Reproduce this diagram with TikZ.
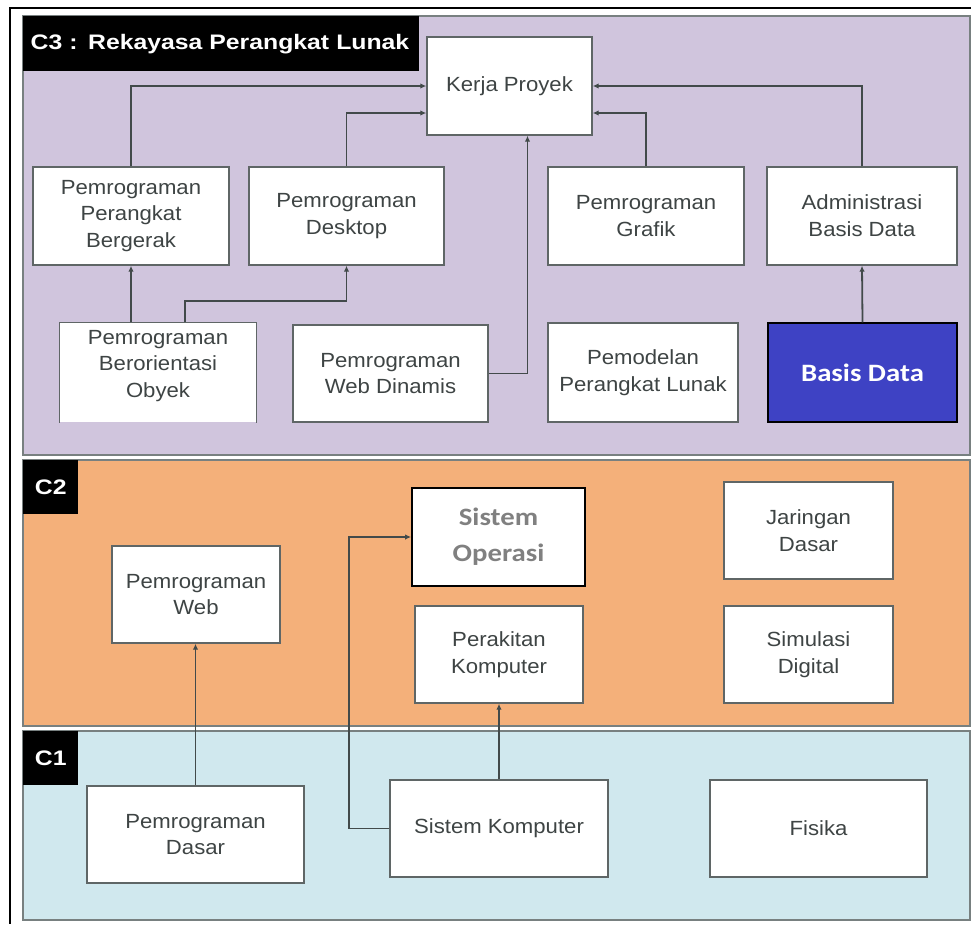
\documentclass[tikz,border=0pt]{standalone}
\usepackage{fontspec}
\usetikzlibrary{arrows.meta}
\setmainfont{Liberation Sans}[FakeStretch=1.08]
\newfontfamily\ttlfont{Liberation Sans}[FakeStretch=1.18]
\newfontfamily\calfont{Carlito}[FakeStretch=1.15]
\definecolor{lav}{RGB}{208,197,221}
\definecolor{orng}{RGB}{244,176,122}
\definecolor{lblue}{RGB}{208,232,238}
\definecolor{bdblue}{RGB}{62,66,196}
\definecolor{txt}{RGB}{62,68,68}
\definecolor{bord}{RGB}{95,102,102}
\definecolor{conn}{RGB}{66,74,74}
\definecolor{pnl}{RGB}{120,128,128}
\begin{document}
\begin{tikzpicture}[x=1pt,y=-1pt,
  box/.style={draw=bord,line width=1.4pt,fill=white,align=center,text=txt,
    font=\fontsize{20.5}{26.7}\selectfont,inner sep=0pt},
  panel/.style={draw=pnl,line width=1.3pt},
  ttl/.style={fill=black,text=white,font=\ttlfont\fontsize{21}{24}\selectfont\bfseries,inner sep=0pt},
  arr/.style={draw=conn,line width=1.8pt,-{Latex[length=6pt,width=5.5pt]}}]
\useasboundingbox (0,0) rectangle (971,924);
\fill[white] (0,0) rectangle (971,924);
% outer frame
\draw[black,line width=1.6pt] (971,8) -- (10,8) -- (10,924);
% panels
\draw[panel,fill=lav] (23,16) rectangle (970,455);
\draw[panel,fill=orng] (23,460) rectangle (970,726);
\draw[panel,fill=lblue] (23,731) rectangle (970,920);
% titles
\node[ttl,minimum width=396,minimum height=55,anchor=north west,text width=389,align=left] (t3) at (23,16) {\hspace{4pt}C3 : Rekayasa Perangkat Lunak};
\node[ttl,minimum width=55,minimum height=54,anchor=north west] (t2) at (23,460) {C2};
\node[ttl,minimum width=55,minimum height=54,anchor=north west] (t1) at (23,731) {C1};
% C3 nodes
\node[box,minimum width=165,minimum height=98] (kerja) at (509.5,86) {Kerja Proyek};
\node[box,minimum width=196,minimum height=98] (ppb) at (131,216) {Pemrograman\\Perangkat\\Bergerak};
\node[box,minimum width=195,minimum height=98] (desk) at (346.5,216) {Pemrograman\\Desktop};
\node[box,minimum width=196,minimum height=98] (graf) at (646,216) {Pemrograman\\Grafik};
\node[box,minimum width=190,minimum height=98] (adm) at (862,216) {Administrasi\\Basis Data};
\node[box,draw=none,minimum width=196,minimum height=99] (pbo) at (158,372.5) {};
\node[align=center,text=txt,font=\fontsize{20.5}{26.7}\selectfont,inner sep=0pt] (pbot) at (158,366) {Pemrograman\\Berorientasi\\Obyek};
\draw[bord,line width=1.4pt] (pbo.south west) -- (pbo.north west) -- (pbo.north east) -- (pbo.south east);
\node[box,minimum width=195,minimum height=97] (pwd) at (390.5,373.5) {Pemrograman\\Web Dinamis};
\node[box,minimum width=190,minimum height=99] (pml) at (643,372.5) {Pemodelan\\Perangkat Lunak};
\node[box,draw=black,fill=bdblue,text=white,minimum width=189,minimum height=99,font=\calfont\fontsize{25}{28}\selectfont\bfseries] (bd) at (862.5,372.5) {Basis Data};
% C3 connectors
\draw[arr] (ppb.north) |- (kerja.west);
\draw[arr] (desk.north) |- ([yshift=-27pt]kerja.west);
\draw[arr] (adm.north) |- (kerja.east);
\draw[arr] (graf.north) |- ([yshift=-27pt]kerja.east);
\draw[arr] (pwd.east) -| ([xshift=18pt]kerja.south);
\draw[arr] (ppb.south |- pbo.north) -- (ppb.south);
\draw[arr] ([xshift=27pt]pbo.north) -- ++(0,-21) -| (desk.south);
\draw[arr] (bd.north) -- (adm.south);
% C2 nodes
\node[box,minimum width=168,minimum height=97] (pweb) at (196,594.5) {Pemrograman\\Web};
\node[box,draw=black,line width=1.8pt,minimum width=173,minimum height=98,font=\calfont\fontsize{25}{36}\selectfont\bfseries,text=black!50] (so) at (498.5,537) {Sistem\\Operasi};
\node[box,minimum width=168,minimum height=97] (prk) at (499,654.5) {Perakitan\\Komputer};
\node[box,minimum width=169,minimum height=97] (jar) at (808.5,530.5) {Jaringan\\Dasar};
\node[box,minimum width=169,minimum height=97] (sim) at (808.5,654.5) {Simulasi\\Digital};
% C1 nodes
\node[box,minimum width=217,minimum height=97] (pd) at (195.5,834.5) {Pemrograman\\Dasar};
\node[box,minimum width=218,minimum height=97] (sk) at (499,828.5) {Sistem Komputer};
\node[box,minimum width=217,minimum height=97] (fis) at (818.5,828.5) {Fisika};
% C1/C2 connectors
\draw[arr] (pd.north) -- (pd.north |- pweb.south);
\draw[arr] (sk.west) -- ++(-40,0) |- (so.west);
\draw[arr] (sk.north) -- (prk.south);
\end{tikzpicture}
\end{document}
